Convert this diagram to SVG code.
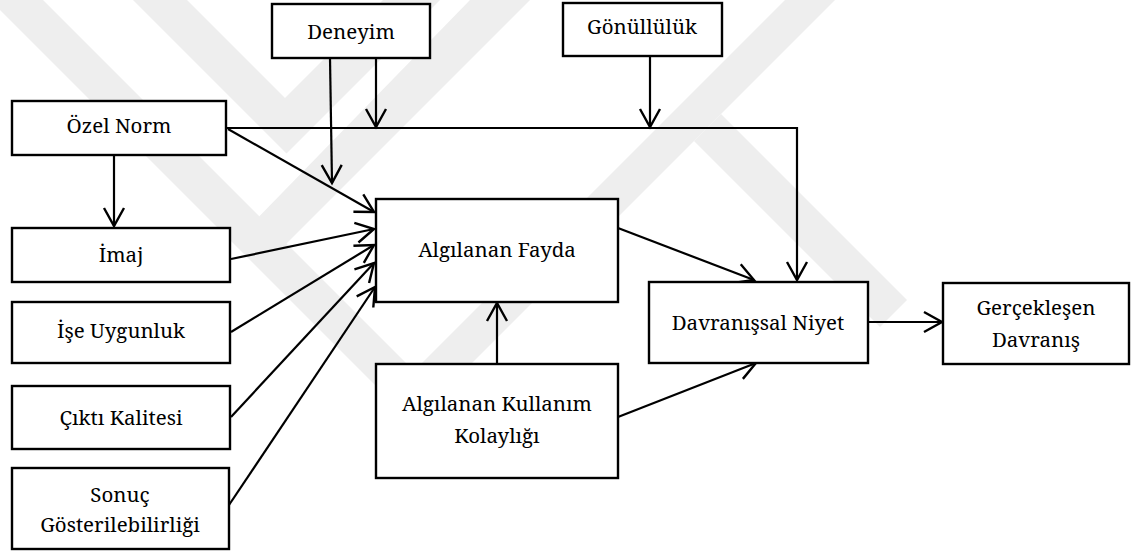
<svg xmlns="http://www.w3.org/2000/svg" xmlns:xlink="http://www.w3.org/1999/xlink" width="1135" height="551" viewBox="0 0 1135 551">
  <defs>
    <style>
      .box { fill: #ffffff; stroke: #000000; stroke-width: 2.4; }
      .edge { fill: none; stroke: #000000; stroke-width: 2.2; }
      .wm { fill: #eeeeee; stroke: none; }
    </style>
    <!-- open arrowhead, tip at the origin, pointing along +x -->
    <path id="ah" d="M-18,-10 L0,0 L-18,10" fill="none" stroke="#000000" stroke-width="2.4"/>
  </defs>

  <rect width="1135" height="551" fill="#ffffff"/>

  <!-- faint background emblem made of diagonal bands -->
  <g id="emblem">
    <polygon class="wm" points="-10,0 43,0 414,371 785,0 835,0 412.5,422.5"/>
    <polygon class="wm" points="133,0 187,0 285,98 383,0 440,0 286.5,153.5"/>
    <polygon class="wm" points="470,0 530,0 270,260 243,233"/>
    <polygon class="wm" points="694,141 721,114 907,300 880,327"/>
  </g>

  <!-- connectors -->
  <g id="connectors">
    <path class="edge" d="M227,128 H797 V280"/>
    <use xlink:href="#ah" transform="translate(797,280) rotate(90)"/>
    <path class="edge" d="M330,58 L332,183"/>
    <use xlink:href="#ah" transform="translate(332,183) rotate(89.1)"/>
    <path class="edge" d="M376,58 V127"/>
    <use xlink:href="#ah" transform="translate(376,127) rotate(90)"/>
    <path class="edge" d="M650,56 V127"/>
    <use xlink:href="#ah" transform="translate(650,127) rotate(90)"/>
    <path class="edge" d="M228,129 L374,212"/>
    <use xlink:href="#ah" transform="translate(374,212) rotate(29.6)"/>
    <path class="edge" d="M114,155 V226"/>
    <use xlink:href="#ah" transform="translate(114,226) rotate(90)"/>
    <path class="edge" d="M231,259 L374,229"/>
    <use xlink:href="#ah" transform="translate(374,229) rotate(-11.85)"/>
    <path class="edge" d="M231,332 L374,245"/>
    <use xlink:href="#ah" transform="translate(374,245) rotate(-31.3)"/>
    <path class="edge" d="M231,417 L374,263"/>
    <use xlink:href="#ah" transform="translate(374,263) rotate(-47.1)"/>
    <path class="edge" d="M229,505 L375,287"/>
    <use xlink:href="#ah" transform="translate(375,287) rotate(-56.2)"/>
    <path class="edge" d="M618,228 L754,280"/>
    <use xlink:href="#ah" transform="translate(754,280) rotate(20.9)"/>
    <path class="edge" d="M497,364 V303"/>
    <use xlink:href="#ah" transform="translate(497,303) rotate(-90)"/>
    <path class="edge" d="M618,417 L756,363"/>
    <use xlink:href="#ah" transform="translate(756,363) rotate(-21.4)"/>
    <path class="edge" d="M868,322 H942"/>
    <use xlink:href="#ah" transform="translate(942,322) rotate(0)"/>
  </g>

  <!-- nodes -->
  <g font-family="'Noto Serif', 'DejaVu Serif', serif" font-size="20.5" text-anchor="middle" fill="#000000">
    <g id="deneyim">
      <rect class="box" x="272" y="4" width="158" height="54"/>
      <text x="351" y="39">Deneyim</text>
    </g>
    <g id="gonulluluk">
      <rect class="box" x="563" y="3" width="159" height="53"/>
      <text x="642" y="34">Gönüllülük</text>
    </g>
    <g id="ozel-norm">
      <rect class="box" x="12" y="101" width="214" height="54"/>
      <text x="119" y="133">Özel Norm</text>
    </g>
    <g id="imaj">
      <rect class="box" x="12" y="228" width="218" height="54"/>
      <text x="121" y="262">İmaj</text>
    </g>
    <g id="ise-uygunluk">
      <rect class="box" x="12" y="302" width="218" height="61"/>
      <text x="121" y="338">İşe Uygunluk</text>
    </g>
    <g id="cikti-kalitesi">
      <rect class="box" x="12" y="386" width="218" height="63"/>
      <text x="121" y="425">Çıktı Kalitesi</text>
    </g>
    <g id="sonuc">
      <rect class="box" x="12" y="468" width="217" height="81"/>
      <text x="120" y="502">Sonuç</text>
      <text x="120" y="532">Gösterilebilirliği</text>
    </g>
    <g id="algilanan-fayda">
      <rect class="box" x="376" y="199" width="242" height="103"/>
      <text x="497" y="257">Algılanan Fayda</text>
    </g>
    <g id="kullanim-kolayligi">
      <rect class="box" x="376" y="364" width="242" height="114"/>
      <text x="497" y="411">Algılanan Kullanım</text>
      <text x="497" y="443">Kolaylığı</text>
    </g>
    <g id="davranissal-niyet">
      <rect class="box" x="649" y="282" width="219" height="81"/>
      <text x="758" y="330">Davranışsal Niyet</text>
    </g>
    <g id="gerceklesen-davranis">
      <rect class="box" x="943" y="283" width="186" height="81"/>
      <text x="1036" y="315">Gerçekleşen</text>
      <text x="1036" y="347">Davranış</text>
    </g>
  </g>
</svg>
